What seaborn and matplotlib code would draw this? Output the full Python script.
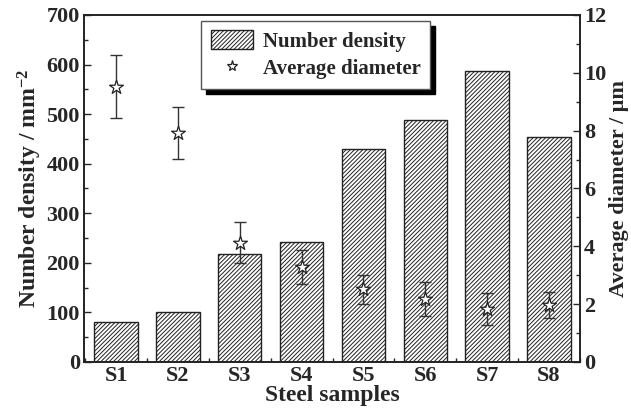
import matplotlib
matplotlib.use("Agg")
import matplotlib.pyplot as plt
import seaborn as sns
import numpy as np
import pandas as pd
from matplotlib.patches import Patch
from matplotlib.lines import Line2D
from matplotlib.ticker import MultipleLocator

samples = ["S1", "S2", "S3", "S4", "S5", "S6", "S7", "S8"]
number_density = [81, 100, 218, 241, 429, 488, 587, 454]
avg_diameter = [9.52, 7.91, 4.13, 3.28, 2.52, 2.18, 1.83, 1.97]
diameter_err = [1.1, 0.9, 0.72, 0.6, 0.5, 0.58, 0.57, 0.44]

sns.set_theme(style="ticks")
plt.rcParams["font.family"] = ["Liberation Serif", "DejaVu Serif"]
plt.rcParams["font.weight"] = "bold"
plt.rcParams["mathtext.fontset"] = "custom"
plt.rcParams["mathtext.rm"] = "Liberation Serif:bold"
plt.rcParams["mathtext.bf"] = "Liberation Serif:bold"
plt.rcParams["mathtext.default"] = "bf"
plt.rcParams["hatch.linewidth"] = 0.7
plt.rcParams["hatch.color"] = "#333333"

df = pd.DataFrame({"sample": samples, "density": number_density})

fig = plt.figure(figsize=(6.31, 4.16), dpi=100)
ax = fig.add_axes([0.133, 0.130, 0.786, 0.834])

sns.barplot(data=df, x="sample", y="density", color="white", edgecolor="#222222",
            linewidth=1.0, width=0.7, ax=ax, saturation=1)
for p in ax.patches:
    p.set_hatch("////////")
    p.set_facecolor("white")

ax.set_xlim(-0.52, 7.5)
ax.set_ylim(0, 700)
ax.yaxis.set_major_locator(MultipleLocator(100))
ax.yaxis.set_minor_locator(MultipleLocator(50))
ax.set_xticks(range(len(samples)))
ax.set_xticks(np.arange(-0.5, 7.6, 1.0), minor=True)
ax.set_xticklabels(samples)

ax2 = ax.twinx()
ax2.errorbar(range(len(samples)), avg_diameter, yerr=diameter_err, fmt="none",
             ecolor="#333333", elinewidth=1.0, capsize=4, capthick=1.0)
sns.scatterplot(x=list(range(len(samples))), y=avg_diameter, marker="*", s=110,
                facecolor="white", edgecolor="#222222", linewidth=0.9, ax=ax2, zorder=5)
ax2.set_ylim(0, 12)
ax2.yaxis.set_major_locator(MultipleLocator(2))
ax2.yaxis.set_minor_locator(MultipleLocator(1))
ax2.set_xlim(-0.52, 7.5)

for a in (ax, ax2):
    a.tick_params(which="both", direction="in", width=1.0, labelsize=16)
    a.tick_params(which="major", length=5, pad=3)
    a.tick_params(which="minor", length=3)
    for s in a.spines.values():
        s.set_linewidth(1.2)
        s.set_color("#222222")
    for lbl in a.get_xticklabels() + a.get_yticklabels():
        lbl.set_fontweight("bold")
ax.tick_params(axis="x", which="major", pad=3)
ax.tick_params(axis="y", which="both", right=False)
ax2.tick_params(axis="y", which="both", left=False)
ax.tick_params(axis="x", which="both", top=False)

ax.set_xlabel("Steel samples", fontsize=17, fontweight="bold", labelpad=-1)
ax.set_ylabel(r"Number density / mm$^{-2}$", fontsize=17, fontweight="bold", labelpad=2)
ax2.set_ylabel("Average diameter / μm", fontsize=16, fontweight="bold", labelpad=2)

handles = [Patch(facecolor="white", edgecolor="#222222", hatch="////////", linewidth=1.0),
           Line2D([], [], marker="*", linestyle="none", markersize=8,
                  markerfacecolor="white", markeredgecolor="#222222", markeredgewidth=0.9)]
leg = ax2.legend(handles, ["Number density", "Average diameter"],
                 loc="upper left", bbox_to_anchor=(0.237, 0.983), frameon=True,
                 fancybox=False, shadow={"color": "black", "alpha": 1, "ox": 3.5, "oy": -3.5},
                 prop={"family": "Liberation Serif", "weight": "bold", "size": 15},
                 handlelength=2.0, handleheight=1.0, borderpad=0.45, labelspacing=0.3,
                 handletextpad=0.5, borderaxespad=0)
leg.get_frame().set_edgecolor("#555555")
leg.get_frame().set_linewidth(1.0)

fig.savefig("out.png", dpi=100)
